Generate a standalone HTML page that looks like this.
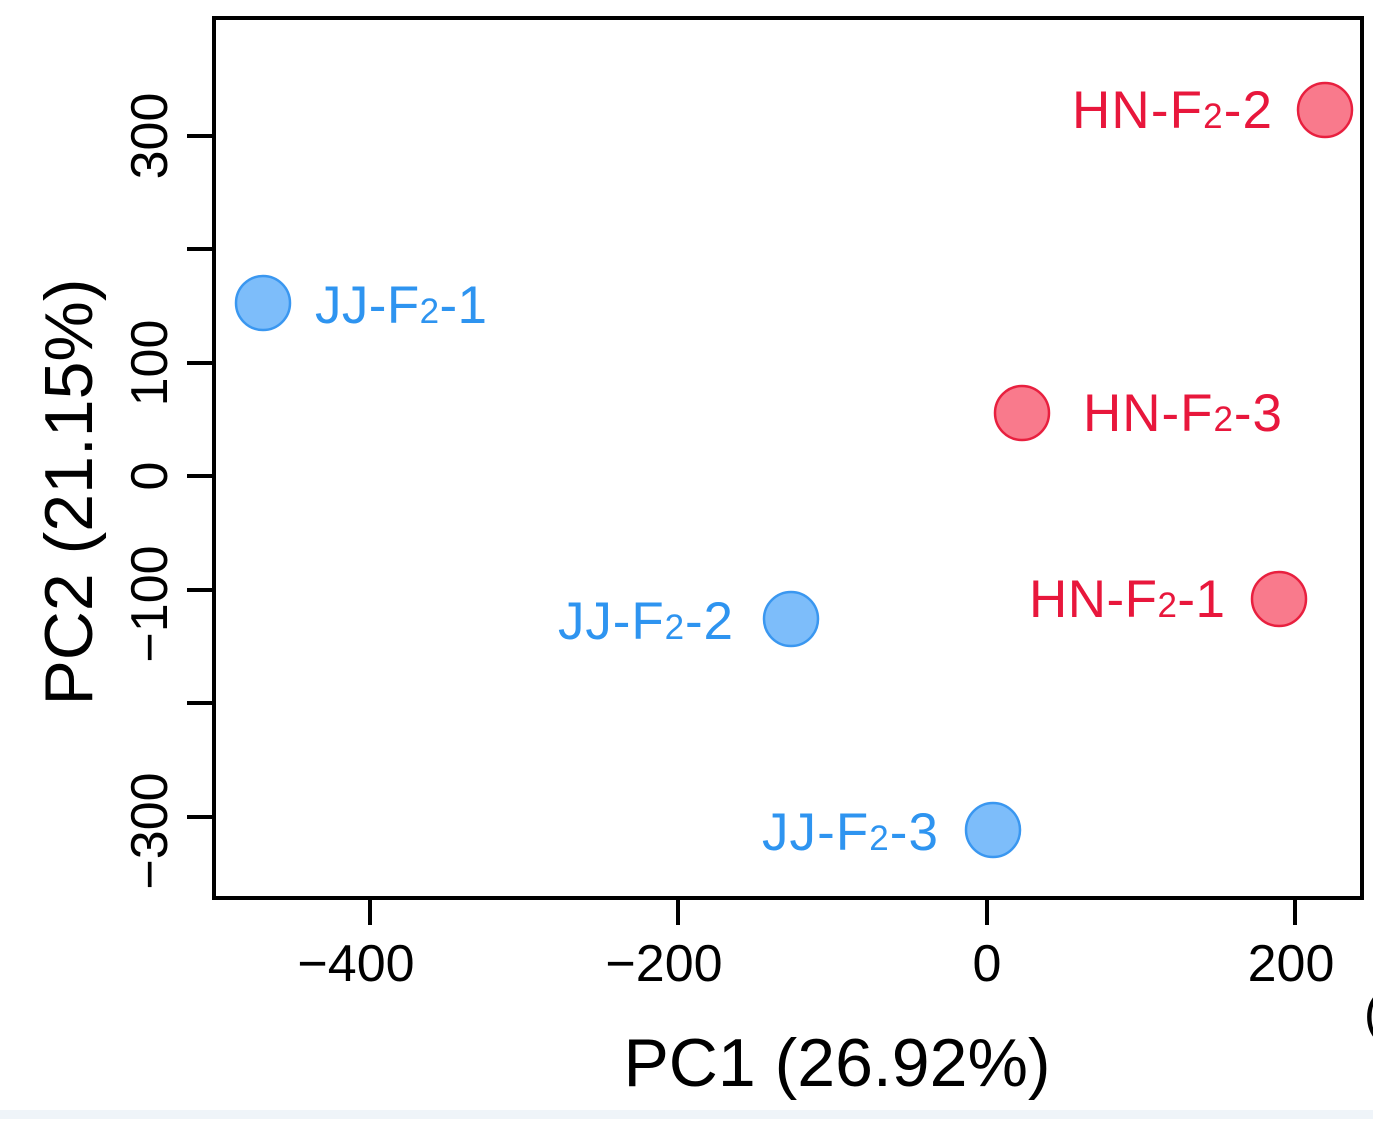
<!DOCTYPE html>
<html><head><style>html,body{margin:0;padding:0;background:#fff}</style></head>
<body>
<svg width="1373" height="1119" xmlns="http://www.w3.org/2000/svg" font-family="Liberation Sans, Arial, sans-serif">
<rect x="0" y="0" width="1373" height="1119" fill="#fff"/>
<rect x="0" y="1110" width="1373" height="9" fill="#eff4f9"/>
<rect x="214" y="18" width="1148" height="880" fill="none" stroke="#000" stroke-width="4"/>
<g stroke="#000" stroke-width="4">
<line x1="370" y1="898" x2="370" y2="925"/><line x1="678" y1="898" x2="678" y2="925"/><line x1="987" y1="898" x2="987" y2="925"/><line x1="1295" y1="898" x2="1295" y2="925"/>
<line x1="214" y1="136" x2="187" y2="136"/><line x1="214" y1="249" x2="187" y2="249"/><line x1="214" y1="363" x2="187" y2="363"/><line x1="214" y1="476" x2="187" y2="476"/><line x1="214" y1="590" x2="187" y2="590"/><line x1="214" y1="703" x2="187" y2="703"/><line x1="214" y1="817" x2="187" y2="817"/>
</g>
<g font-size="52" fill="#000" text-anchor="middle">
<text x="356" y="981">−400</text><text x="664" y="981">−200</text><text x="987" y="981">0</text><text x="1291" y="981">200</text>
<text transform="translate(167,136) rotate(-90)">300</text>
<text transform="translate(167,363) rotate(-90)">100</text>
<text transform="translate(167,476) rotate(-90)">0</text>
<text transform="translate(167,604) rotate(-90)">−100</text>
<text transform="translate(167,831) rotate(-90)">−300</text>
</g>
<text x="837" y="1086" font-size="68" text-anchor="middle">PC1 (26.92%)</text>
<text transform="translate(92,492) rotate(-90)" font-size="68" text-anchor="middle">PC2 (21.15%)</text>
<text x="1364" y="1030" font-size="50">(</text>
<g fill="#7dbdfa" stroke="#3a97f0" stroke-width="2.5">
<circle cx="263" cy="303" r="27"/><circle cx="791" cy="619" r="27"/><circle cx="993" cy="830" r="27"/>
</g>
<g fill="#f97a8c" stroke="#e8203f" stroke-width="2.5">
<circle cx="1325" cy="110" r="27"/><circle cx="1022" cy="413" r="27"/><circle cx="1279" cy="599" r="27"/>
</g>
<g font-size="53" fill="#2e94f0">
<text x="315" y="323" textLength="172" lengthAdjust="spacing">JJ-F<tspan font-size="35">2</tspan>-1</text>
<text x="558" y="639" textLength="175" lengthAdjust="spacing">JJ-F<tspan font-size="35">2</tspan>-2</text>
<text x="762" y="850" textLength="176" lengthAdjust="spacing">JJ-F<tspan font-size="35">2</tspan>-3</text>
</g>
<g font-size="53" fill="#e8173c">
<text x="1072" y="128" textLength="200" lengthAdjust="spacing">HN-F<tspan font-size="35">2</tspan>-2</text>
<text x="1083" y="431" textLength="199" lengthAdjust="spacing">HN-F<tspan font-size="35">2</tspan>-3</text>
<text x="1029" y="617" textLength="196" lengthAdjust="spacing">HN-F<tspan font-size="35">2</tspan>-1</text>
</g>
</svg>
</body></html>
